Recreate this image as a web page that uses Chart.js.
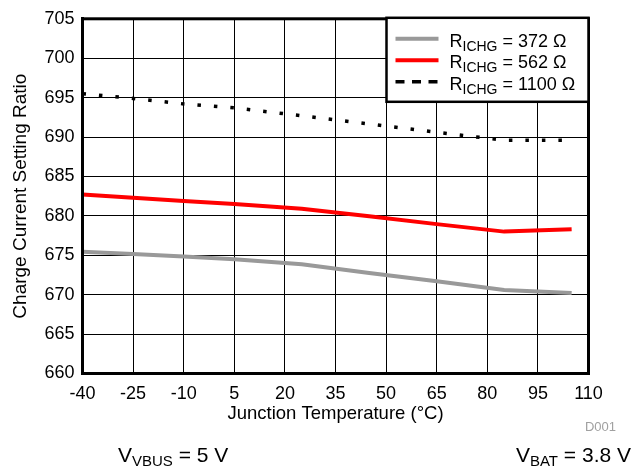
<!DOCTYPE html>
<html>
<head>
<meta charset="utf-8">
<script src="https://cdn.jsdelivr.net/npm/chart.js@4.4.1/dist/chart.umd.min.js"></script>
<style>
html,body{margin:0;padding:0;background:#fff;}
#wrap{position:relative;width:643px;height:468px;}
</style>
</head>
<body>
<div id="wrap"><canvas id="c" width="643" height="468"></canvas></div>
<script>
// ---- data ----
const temps = [-40, -25, -10, 5, 25, 45, 65, 85, 105];
const r372 = [675.45, 675.15, 674.85, 674.5, 673.85, 672.75, 671.7, 670.6, 670.2];
const r562 = [682.7, 682.3, 681.9, 681.5, 680.9, 679.95, 678.95, 678.0, 678.3];
const r1100 = [695.5, 694.9, 694.2, 693.7, 692.7, 691.65, 690.6, 689.6, 689.6];
const seriesNames = ['372 \u03A9', '562 \u03A9', '1100 \u03A9'];
const xTitle = 'Junction Temperature (\u00B0C)';
const yTitle = 'Charge Current Setting Ratio';

const FONT = "'Liberation Sans', Arial, Helvetica, sans-serif";
const colors = ['#999999', '#ff0000', '#000000'];

function pts(vals){ return temps.map((t,i)=>({x:t, y:vals[i]})); }

function drawSub(ctx, x, y, parts){
  let cx = x;
  for (const [t, size, dy] of parts){
    ctx.font = size + 'px ' + FONT;
    ctx.fillText(t, cx, y + dy);
    cx += ctx.measureText(t).width;
  }
  return cx;
}

const overlay = {
  id: 'overlay',
  afterDraw(chart){
    const ctx = chart.ctx, a = chart.chartArea;
    ctx.save();
    ctx.strokeStyle = '#000';
    ctx.lineWidth = 3;
    ctx.strokeRect(a.left, a.top, a.right - a.left, a.bottom - a.top);
    const bw = 202, bh = 84;
    const bx = a.right - bw, by = a.top - 1;
    ctx.fillStyle = '#fff';
    ctx.fillRect(bx, by, bw, bh);
    ctx.lineWidth = 2.5;
    ctx.strokeRect(bx, by, bw, bh);
    const rowY = [36.5, 58, 79.5];
    const ds = chart.data.datasets;
    for (let i = 0; i < 3; i++){
      const cy = by + rowY[i] - 15 + 1;
      ctx.save();
      ctx.strokeStyle = ds[i].borderColor;
      ctx.lineWidth = i === 2 ? 3.5 : 4;
      ctx.setLineDash(i === 2 ? [9, 7.5] : []);
      ctx.beginPath();
      ctx.moveTo(bx + 9, cy - 1.5);
      ctx.lineTo(bx + 52, cy - 1.5);
      ctx.stroke();
      ctx.restore();
      ctx.fillStyle = '#000';
      ctx.textBaseline = 'alphabetic';
      ctx.textAlign = 'left';
      drawSub(ctx, bx + 63, cy + 6.5, [['R', 18, 0], ['ICHG', 14, 4], [' = ' + seriesNames[i], 18, 0]]);
    }
    ctx.fillStyle = '#a0a0a0';
    ctx.font = '13px ' + FONT;
    ctx.textAlign = 'right';
    ctx.fillText('D001', 616, 431);
    ctx.fillStyle = '#000';
    ctx.textAlign = 'left';
    drawSub(ctx, 118, 462, [['V', 21, 0], ['VBUS', 15, 4], [' = 5 V', 21, 0]]);
    const parts = [['V', 21, 0], ['BAT', 15, 4], [' = 3.8 V', 21, 0]];
    let w = 0;
    for (const [t, s] of parts){ ctx.font = s + 'px ' + FONT; w += ctx.measureText(t).width; }
    drawSub(ctx, 631 - w, 462, parts);
    ctx.restore();
  }
};

new Chart(document.getElementById('c'), {
  type: 'line',
  data: {
    datasets: [
      { label: seriesNames[0], data: pts(r372), borderColor: colors[0], borderWidth: 4, pointRadius: 0, tension: 0 },
      { label: seriesNames[1], data: pts(r562), borderColor: colors[1], borderWidth: 4, pointRadius: 0, tension: 0 },
      { label: seriesNames[2], data: pts(r1100), borderColor: colors[2], borderWidth: 3.5, borderDash: [3.5, 13], pointRadius: 0, tension: 0 }
    ]
  },
  options: {
    responsive: false,
    animation: false,
    events: [],
    layout: { padding: { left: 0, right: 54.5, top: 16, bottom: 42.5 } },
    plugins: { legend: { display: false }, tooltip: { enabled: false } },
    scales: {
      x: {
        type: 'linear', min: -40, max: 110,
        afterFit(s){ s.height = 52; },
        ticks: { stepSize: 15, color: '#000', font: { family: FONT, size: 18 }, padding: 10, maxRotation: 0 },
        grid: { color: '#000', lineWidth: 1, drawTicks: false },
        border: { display: true, color: '#000', width: 3 },
        title: { display: true, text: xTitle, color: '#000', font: { family: FONT, size: 18.5 }, padding: 0 }
      },
      y: {
        min: 660, max: 705,
        afterFit(s){ s.width = 82.5; },
        ticks: { stepSize: 5, color: '#000', font: { family: FONT, size: 18 }, padding: 8 },
        grid: { color: '#000', lineWidth: 1, drawTicks: false },
        border: { display: true, color: '#000', width: 3 },
        title: { display: true, text: yTitle, color: '#000', font: { family: FONT, size: 19 }, padding: { top: 9, bottom: 0 } }
      }
    }
  },
  plugins: [overlay]
});
</script>
</body>
</html>
